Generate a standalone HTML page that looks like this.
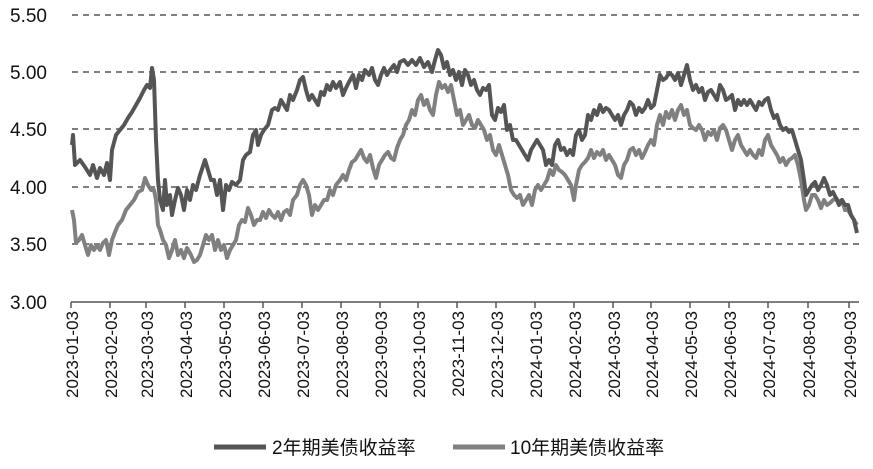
<!DOCTYPE html>
<html><head><meta charset="utf-8"><style>
html,body{margin:0;padding:0;background:#fff;width:873px;height:469px;overflow:hidden}
svg{display:block;font-family:"Liberation Sans","Noto Sans CJK SC",sans-serif}
</style></head><body>
<svg width="873" height="469" viewBox="0 0 873 469">
<g stroke="#555" stroke-width="1.5" stroke-dasharray="6,5">
<line x1="72" y1="15" x2="860" y2="15"/><line x1="72" y1="72" x2="860" y2="72"/>
<line x1="72" y1="129" x2="860" y2="129"/><line x1="72" y1="187" x2="860" y2="187"/>
<line x1="72" y1="244" x2="860" y2="244"/>
</g>
<g font-size="19" fill="#111" text-anchor="end">
<text x="47" y="22">5.50</text><text x="47" y="79">5.00</text><text x="47" y="136">4.50</text>
<text x="47" y="194">4.00</text><text x="47" y="251">3.50</text><text x="47" y="309">3.00</text>
</g>
<line x1="71" y1="302" x2="859" y2="302" stroke="#555" stroke-width="1.5"/>
<g stroke="#555" stroke-width="1.5">
<line x1="71" y1="302" x2="71" y2="308"/><line x1="110" y1="302" x2="110" y2="308"/><line x1="146" y1="302" x2="146" y2="308"/><line x1="185" y1="302" x2="185" y2="308"/><line x1="224" y1="302" x2="224" y2="308"/><line x1="263" y1="302" x2="263" y2="308"/><line x1="302" y1="302" x2="302" y2="308"/><line x1="341" y1="302" x2="341" y2="308"/><line x1="380" y1="302" x2="380" y2="308"/><line x1="418" y1="302" x2="418" y2="308"/><line x1="457" y1="302" x2="457" y2="308"/><line x1="496" y1="302" x2="496" y2="308"/><line x1="535" y1="302" x2="535" y2="308"/><line x1="574" y1="302" x2="574" y2="308"/><line x1="613" y1="302" x2="613" y2="308"/><line x1="651" y1="302" x2="651" y2="308"/><line x1="690" y1="302" x2="690" y2="308"/><line x1="729" y1="302" x2="729" y2="308"/><line x1="768" y1="302" x2="768" y2="308"/><line x1="808" y1="302" x2="808" y2="308"/><line x1="849" y1="302" x2="849" y2="308"/>
</g>
<g font-size="17" fill="#111" text-anchor="end">
<text transform="translate(78,311) rotate(-90)">2023-01-03</text>
<text transform="translate(117,311) rotate(-90)">2023-02-03</text>
<text transform="translate(153,311) rotate(-90)">2023-03-03</text>
<text transform="translate(192,311) rotate(-90)">2023-04-03</text>
<text transform="translate(231,311) rotate(-90)">2023-05-03</text>
<text transform="translate(270,311) rotate(-90)">2023-06-03</text>
<text transform="translate(309,311) rotate(-90)">2023-07-03</text>
<text transform="translate(348,311) rotate(-90)">2023-08-03</text>
<text transform="translate(387,311) rotate(-90)">2023-09-03</text>
<text transform="translate(425,311) rotate(-90)">2023-10-03</text>
<text transform="translate(464,311) rotate(-90)">2023-11-03</text>
<text transform="translate(503,311) rotate(-90)">2023-12-03</text>
<text transform="translate(542,311) rotate(-90)">2024-01-03</text>
<text transform="translate(581,311) rotate(-90)">2024-02-03</text>
<text transform="translate(620,311) rotate(-90)">2024-03-03</text>
<text transform="translate(658,311) rotate(-90)">2024-04-03</text>
<text transform="translate(697,311) rotate(-90)">2024-05-03</text>
<text transform="translate(736,311) rotate(-90)">2024-06-03</text>
<text transform="translate(775,311) rotate(-90)">2024-07-03</text>
<text transform="translate(815,311) rotate(-90)">2024-08-03</text>
<text transform="translate(856,311) rotate(-90)">2024-09-03</text>
</g>
<polyline fill="none" stroke="#808080" stroke-width="4" stroke-linejoin="round" points="72,210 74,220 76,243 79,240 82,235 85,245 88,255 91,245 94,250 97,245 100,250 103,243 106,240 109,255 112,240 115,232 118,225 122,220 126,210 130,205 134,200 138,192 142,190 145,178 148,185 151,190 154,190 156,200 158,225 160,230 163,240 166,245 169,258 172,250 175,240 178,255 181,250 184,258 187,248 191,255 194,262 197,260 200,255 203,245 206,235 209,240 212,235 215,250 218,240 221,250 224,245 227,258 230,250 233,245 236,240 239,225 242,220 245,222 248,208 251,215 254,225 257,220 260,220 263,212 266,218 269,210 272,215 275,218 278,212 281,220 284,212 287,210 290,215 293,200 297,195 300,185 303,180 306,185 309,195 312,215 315,205 318,210 321,205 324,200 327,200 330,190 333,195 336,185 340,180 343,175 346,180 349,170 352,162 355,160 358,155 361,150 364,158 367,162 370,155 373,168 376,178 379,165 382,160 385,155 388,152 391,158 394,160 397,148 400,140 403,135 406,125 409,120 412,110 415,115 418,100 421,95 424,105 427,100 430,110 433,115 436,95 439,82 442,88 445,85 448,92 451,85 454,100 457,115 460,110 463,125 466,120 469,115 472,125 475,128 478,120 481,125 484,130 487,140 490,135 493,150 496,155 499,145 502,155 505,165 508,175 511,190 514,195 517,198 520,195 523,205 526,200 529,195 532,205 535,190 538,185 541,190 544,185 547,180 550,170 553,175 556,165 559,170 562,172 565,175 568,180 571,185 574,200 576,185 579,170 582,165 585,162 588,158 591,150 594,158 597,152 600,155 603,150 606,160 609,155 612,160 615,165 618,175 621,178 624,165 627,160 630,150 633,148 636,155 639,150 642,158 645,152 648,145 651,140 654,145 657,125 660,115 663,125 666,112 669,118 672,110 675,120 678,110 681,105 684,115 687,110 690,125 693,128 696,130 699,125 702,130 705,140 708,132 711,135 714,130 717,140 720,128 723,125 726,130 729,140 732,150 735,140 738,135 741,145 744,150 747,155 750,150 753,155 756,158 759,150 762,155 765,140 768,135 771,145 774,150 777,155 780,162 783,158 786,165 789,160 792,158 795,155 798,165 801,180 804,200 806,210 809,205 812,195 815,195 818,200 821,208 824,200 827,205 830,203 833,200 836,198 839,202 842,200 845,210 848,210 851,215 854,220 857,225"/>
<polyline fill="none" stroke="#555" stroke-width="4" stroke-linejoin="round" points="72,145 73,135 75,165 80,160 85,167 90,175 93,165 97,178 100,168 104,175 107,163 110,180 112,150 116,135 120,130 124,125 128,118 132,112 136,105 140,98 144,90 147,85 150,88 152,68 154,80 156,140 158,180 160,200 163,210 165,180 167,205 170,195 172,215 175,200 178,188 181,195 184,210 187,190 190,200 193,185 196,190 200,175 205,160 208,170 211,180 214,180 217,195 220,180 223,210 226,185 229,190 232,182 236,185 240,180 243,160 246,155 250,152 253,135 256,130 258,145 261,135 264,130 268,125 272,110 275,108 278,110 281,100 284,105 287,110 290,95 293,100 297,90 300,80 303,77 306,90 309,100 312,95 315,100 318,105 321,92 324,95 327,85 330,90 333,82 336,88 340,82 343,95 346,88 349,82 353,75 356,88 359,75 362,80 365,70 369,75 372,68 375,80 378,85 381,75 384,68 387,75 390,70 394,65 397,72 400,62 404,60 408,65 412,60 416,65 420,58 424,67 428,62 432,72 435,60 438,50 441,55 444,68 447,62 450,75 453,70 456,80 459,72 462,85 465,70 468,75 471,85 474,80 477,90 480,95 483,88 486,90 489,85 492,115 495,120 498,108 501,112 504,105 507,130 510,125 513,140 516,140 519,145 522,150 525,155 528,160 531,150 534,145 537,140 540,145 543,150 546,165 549,160 552,165 555,145 558,140 561,150 564,148 567,155 570,150 573,155 576,135 579,130 582,140 585,135 588,115 591,120 594,110 597,115 600,105 603,112 606,108 609,110 612,115 615,120 618,115 621,125 624,115 627,110 630,102 633,105 636,115 639,108 642,112 645,108 648,100 651,108 654,105 657,90 660,75 663,80 666,78 669,73 672,75 675,80 678,73 681,85 684,75 687,65 690,80 693,90 696,85 699,92 702,88 705,100 708,92 711,90 714,95 717,100 720,85 723,90 726,100 729,98 732,95 735,110 738,100 741,105 744,100 747,105 750,100 753,105 756,110 759,102 762,105 765,100 768,98 771,110 774,118 777,115 780,125 783,130 786,128 789,132 792,130 795,140 798,150 801,160 804,180 806,195 809,190 812,185 815,182 818,190 821,185 824,178 827,185 830,195 833,192 836,198 839,205 842,200 845,205 848,205 851,215 854,220 857,233"/>
<line x1="214" y1="447" x2="266" y2="447" stroke="#555" stroke-width="5"/>
<text x="272" y="454" font-size="19" fill="#111">2年期美债收益率</text>
<line x1="453" y1="447" x2="505" y2="447" stroke="#808080" stroke-width="5"/>
<text x="510" y="454" font-size="19" fill="#111">10年期美债收益率</text>
</svg>
</body></html>
